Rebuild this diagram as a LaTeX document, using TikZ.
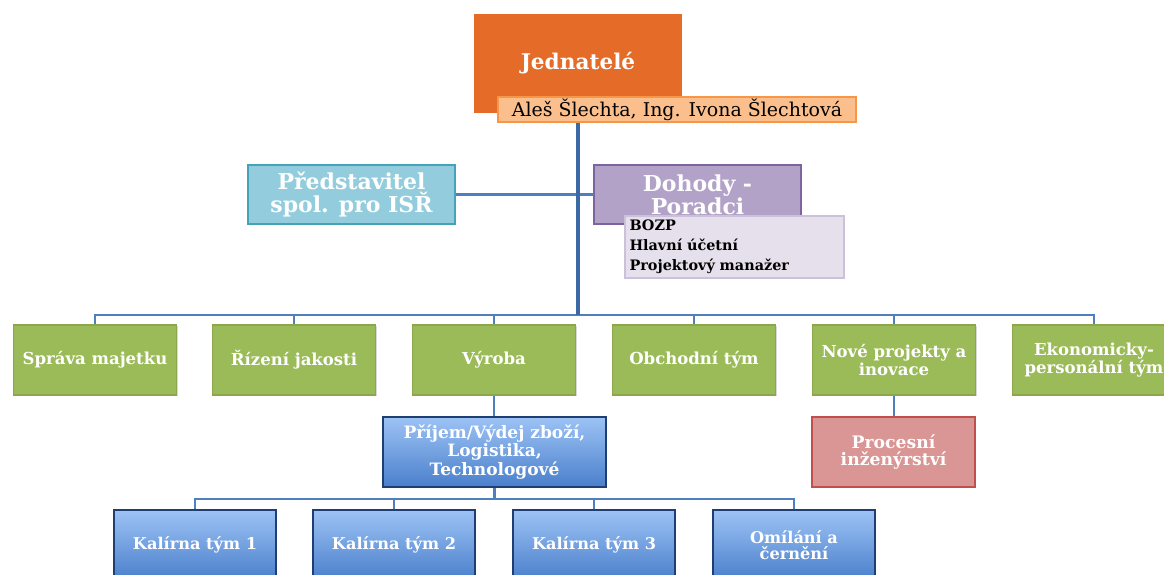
\documentclass[tikz,border=0pt]{standalone}
\usepackage{fontspec}
\setmainfont{DejaVu Serif}
\usepackage{tikz}
\usetikzlibrary{shapes, positioning, shadows}

\definecolor{jedn}{HTML}{E46C28}
\definecolor{jednL}{HTML}{FBBF8E}
\definecolor{jednB}{HTML}{F79646}
\definecolor{tyrk}{HTML}{93CDDD}
\definecolor{tyrkB}{HTML}{45A3B9}
\definecolor{fial}{HTML}{B3A2C7}
\definecolor{fialB}{HTML}{7E649E}
\definecolor{fialL}{HTML}{E6E0EC}
\definecolor{fialLB}{HTML}{CCC1DA}
\definecolor{zel}{HTML}{9BBB59}
\definecolor{zelB}{HTML}{8AA74E}
\definecolor{modT}{HTML}{9DC3F5}
\definecolor{modB}{HTML}{4A7FCB}
\definecolor{modD}{HTML}{1F3F73}
\definecolor{ruz}{HTML}{D99694}
\definecolor{ruzB}{HTML}{C0504D}
\definecolor{cara}{HTML}{4F7FBD}
\definecolor{kmen}{HTML}{3A69A3}

\begin{document}
\begin{tikzpicture}[x=0.02cm, y=-0.02cm,
    box/.style={draw, line width=1pt, align=center, text=white, inner sep=1pt,
        drop shadow={opacity=0.3, shadow xshift=0.6pt, shadow yshift=-0.8pt}},
    zelbox/.style={box, fill=zel, draw=zelB, minimum width=3.26cm, minimum height=1.4cm,
        font=\fontsize{9.4}{9}\selectfont\bfseries},
    modbox/.style={box, top color=modT, bottom color=modB, draw=modD, minimum width=3.24cm,
        minimum height=1.4cm, font=\fontsize{9.2}{8.8}\selectfont\bfseries},
    velbox/.style={box, minimum width=4.14cm, minimum height=1.18cm,
        font=\fontsize{12.5}{11.5}\selectfont\bfseries},
    cara/.style={draw=cara, line width=1.3pt},
    kmen/.style={draw=kmen, line width=2.2pt}]
\useasboundingbox (0,0) rectangle (1164,575);

% vedeni
\node [box, fill=jedn, draw=jedn, minimum width=4.12cm, minimum height=1.94cm,
    font=\fontsize{12.3}{12}\selectfont\bfseries] (jedn) at (578,63.5) {Jednatelé};
\node [draw=jednB, fill=jednL, line width=1pt, minimum width=7.16cm, minimum height=0.5cm,
    inner sep=1pt, font=\fontsize{10.8}{10.8}\selectfont] (jmena) at (677,109.5)
    {Aleš Šlechta, Ing. Ivona Šlechtová};

% stab
\node [velbox, fill=tyrk, draw=tyrkB] (pred) at (351.5,194.5) {Představitel\\spol. pro ISŘ};
\node [velbox, fill=fial, draw=fialB] (doh) at (697.5,194.5) {Dohody -\\Poradci};
\node [draw=fialLB, fill=fialL, line width=1pt, minimum width=4.38cm, minimum height=1.2cm,
    text width=4.2cm, align=left, inner sep=0.08cm,
    font=\fontsize{8.2}{11.3}\selectfont\bfseries] (porad) at (734.5,247)
    {BOZP\\Hlavní účetní\\Projektový manažer};
\draw [cara] (pred.east) -- (doh.west);

% useky
\node [zelbox] (sprava) at (95,360) {Správa majetku};
\node [zelbox] (jakost) at (294,360) {Řízení jakosti};
\node [zelbox] (vyroba) at (494,360) {Výroba};
\node [zelbox] (obchod) at (694,360) {Obchodní tým};
\node [zelbox] (nove) at (894,360) {Nové projekty a\\inovace};
\node [zelbox] (ekon) at (1094,360) {Ekonomicky-\\personální tým};

\coordinate (uzel) at (578,315);
\draw [cara] (uzel) -| (sprava.north);
\draw [cara] (uzel) -| (jakost.north);
\draw [cara] (uzel) -| (vyroba.north);
\draw [cara] (uzel) -| (obchod.north);
\draw [cara] (uzel) -| (nove.north);
\draw [cara] (uzel) -| (ekon.north);
\draw [kmen] (jedn.south |- jmena.south) -- (uzel);

% vyroba a projekty
\node [modbox, minimum width=4.46cm, font=\fontsize{9.7}{8.8}\selectfont\bfseries] (prijem)
    at (494.5,452) {Příjem/Výdej zboží,\\Logistika,\\Technologové};
\node [box, fill=ruz, draw=ruzB, minimum width=3.26cm, minimum height=1.4cm,
    font=\fontsize{9.8}{9.5}\selectfont\bfseries] (proces) at (893.5,452) {Procesní\\inženýrství};
\draw [cara] (vyroba.south) -- (vyroba.south |- prijem.north);
\draw [cara] (nove.south) -- (nove.south |- proces.north);

% kalirny
\node [modbox] (kal1) at (195,545) {Kalírna tým 1};
\node [modbox] (kal2) at (394,545) {Kalírna tým 2};
\node [modbox] (kal3) at (594,545) {Kalírna tým 3};
\node [modbox] (omil) at (794,545) {Omílání a\\černění};

\coordinate (uzel2) at (494.5,499);
\draw [cara] (prijem.south) -- (uzel2);
\draw [cara] (uzel2) -| (kal1.north);
\draw [cara] (uzel2) -| (kal2.north);
\draw [cara] (uzel2) -| (kal3.north);
\draw [cara] (uzel2) -| (omil.north);
\end{tikzpicture}
\end{document}
